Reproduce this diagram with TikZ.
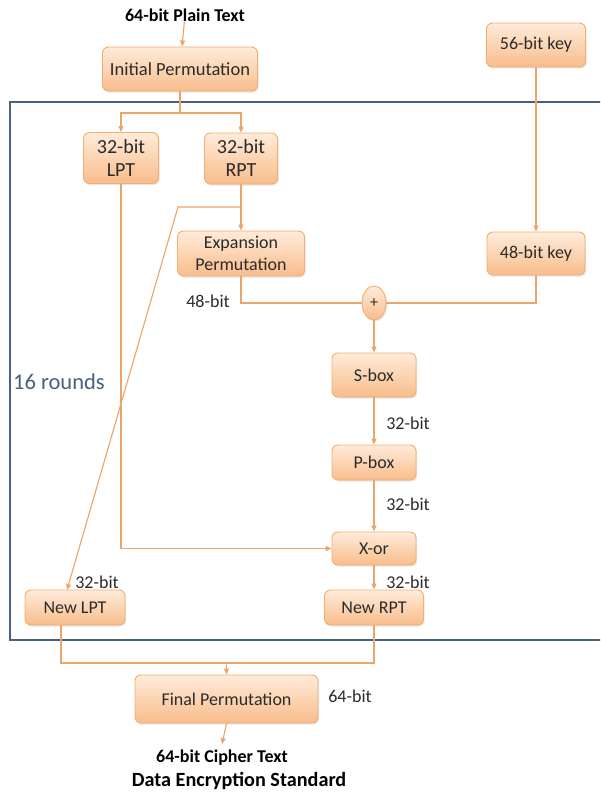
\documentclass[tikz,border=0pt]{standalone}
\usepackage{fontspec}
\setmainfont{Carlito}
\usetikzlibrary{arrows.meta,shapes.geometric,shadows,calc}
\definecolor{boxtop}{HTML}{FFEBDA}
\definecolor{boxbot}{HTML}{F8BD8B}
\definecolor{boxline}{HTML}{F2AE6E}
\definecolor{conn}{HTML}{EBA46A}
\definecolor{frame}{HTML}{46627E}
\definecolor{txt}{HTML}{2B2B2B}
\tikzset{
  blk/.style={draw=boxline, line width=0.9pt, rounded corners=6pt,
    top color=boxtop, bottom color=boxbot, font=\fontsize{18}{23}\selectfont,
    text=txt, align=center, inner sep=0pt,
    drop shadow={opacity=0.2, shadow xshift=1.2pt, shadow yshift=-1.5pt}},
  lbl/.style={font=\fontsize{18}{22}\selectfont, text=txt, inner sep=0pt},
  ttl/.style={font=\bfseries\fontsize{18}{22}\selectfont, text=black, inner sep=0pt},
  ln/.style={draw=conn, line width=1.1pt},
  arr/.style={ln, -{Triangle[length=6pt,width=5pt]}},
}
\begin{document}
\begin{tikzpicture}[x=1pt,y=-1pt]
\useasboundingbox (0,0) rectangle (600,792);
\clip (0,0) rectangle (600,792);
\fill[white] (0,0) rectangle (600,792);
% frame
\draw[frame, line width=2.2pt] (10,102) rectangle (610,640);
\node[font=\fontsize{22.5}{26}\selectfont, text=frame, anchor=west, inner sep=0pt] (rounds) at (13,382) {16 rounds};
% nodes
\node[ttl] (pt) at (185,15) {64-bit Plain Text};
\node[blk, minimum width=155pt, minimum height=44pt, font=\fontsize{18.5}{23}\selectfont] (ip) at (180,69) {Initial Permutation};
\node[blk, minimum width=75pt, minimum height=51pt, font=\fontsize{20}{23}\selectfont] (lpt) at (121,158) {32-bit\\LPT};
\node[blk, minimum width=73pt, minimum height=51pt, font=\fontsize{20}{23}\selectfont] (rpt) at (241,158.5) {32-bit\\RPT};
\node[blk, minimum width=99pt, minimum height=44pt] (k56) at (536,45) {56-bit key};
\node[blk, minimum width=127pt, minimum height=45pt, font=\fontsize{18}{22}\selectfont] (ep) at (241,253.5) {Expansion\\Permutation};
\node[blk, minimum width=98pt, minimum height=43pt] (k48) at (536,253.5) {48-bit key};
\node[blk, ellipse, rounded corners=0pt, minimum width=24pt, minimum height=34pt, font=\fontsize{16}{18}\selectfont] (plus) at (374,303) {+};
\node[blk, minimum width=84pt, minimum height=44pt] (sbox) at (374,375) {S-box};
\node[blk, minimum width=84pt, minimum height=35pt] (pbox) at (374,462.5) {P-box};
\node[blk, minimum width=84pt, minimum height=33pt] (xor) at (374,548.5) {X-or};
\node[blk, minimum width=99pt, minimum height=35pt] (nrpt) at (374,607.5) {New RPT};
\node[blk, minimum width=100pt, minimum height=35pt] (nlpt) at (75,607.5) {New LPT};
\node[blk, minimum width=183pt, minimum height=48pt] (fp) at (226.5,699) {Final Permutation};
\node[ttl] (ct) at (222,758) {64-bit Cipher Text};
\node[ttl, font=\bfseries\fontsize{20.2}{24}\selectfont] (title) at (239,781) {Data Encryption Standard};
% labels
\node[lbl] (l48) at (208,301) {48-bit};
\node[lbl] (l32a) at (408,423) {32-bit};
\node[lbl] (l32b) at (408,504) {32-bit};
\node[lbl] (l32c) at (408,582) {32-bit};
\node[lbl] (l32d) at (97,582) {32-bit};
\node[lbl] (l64) at (350,696) {64-bit};
% coordinates
\coordinate (j1) at (180,113);
\coordinate (rb) at (241,207);
\coordinate (d1) at (178,207);
\coordinate (nlin) at (67,590);
\coordinate (nlout) at (61,625);
\coordinate (j2) at (226.5,663);
% connectors
\draw[arr] (pt) -- (ip);
\draw[ln] (ip.south) -- (j1);
\draw[arr] (j1) -| (lpt.north);
\draw[arr] (j1) -| (rpt.north);
\draw[arr] (rpt) -- (ep);
\draw[arr] (rb) -- (d1) -- (nlin);
\draw[arr] (lpt.south) |- (xor.west);
\draw[ln] (ep.south) |- (plus.west);
\draw[arr] (k56) -- (k48);
\draw[ln] (k48.south) |- (plus.east);
\draw[arr] (plus) -- (sbox);
\draw[arr] (sbox) -- (pbox);
\draw[arr] (pbox) -- (xor);
\draw[arr] (xor) -- (nrpt);
\draw[ln] (nlout) |- (j2) -| (nrpt.south);
\draw[arr] (j2) -- (fp.north);
\draw[arr] (fp.south) -- ($(ct.north)+(0,-6)$);
\end{tikzpicture}
\end{document}
